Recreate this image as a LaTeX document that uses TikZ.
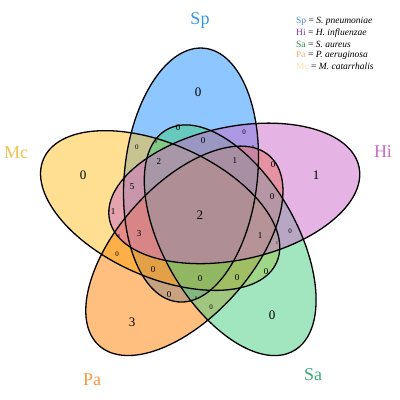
\documentclass[tikz,border=0pt]{standalone}
\usepackage{fontspec}
\setmainfont{Liberation Serif}
\definecolor{cSp}{RGB}{30,144,255}
\definecolor{cHi}{RGB}{205,105,201}
\definecolor{cSa}{RGB}{67,205,128}
\definecolor{cPa}{RGB}{255,127,0}
\definecolor{cMc}{RGB}{255,193,37}
\definecolor{tSp}{RGB}{50,150,235}
\definecolor{tHi}{RGB}{200,110,200}
\definecolor{tSa}{RGB}{60,170,120}
\definecolor{tPa}{RGB}{245,150,60}
\definecolor{tMc}{RGB}{235,195,80}
\definecolor{lSp}{RGB}{70,130,220}
\definecolor{lHi}{RGB}{120,50,160}
\definecolor{lSa}{RGB}{40,140,70}
\definecolor{lPa}{RGB}{250,180,120}
\definecolor{lMc}{RGB}{250,228,170}
\tikzset{
  big/.style={inner sep=0pt,font=\fontsize{13}{13}\selectfont},
  mid/.style={inner sep=0pt,font=\fontsize{9}{9}\selectfont},
  sml/.style={inner sep=0pt,font=\fontsize{7}{7}\selectfont},
  tny/.style={inner sep=0pt,font=\fontsize{4.5}{4.5}\selectfont},
  cat/.style={inner sep=0pt,font=\fontsize{18}{18}\selectfont},
  leg/.style={inner sep=0pt,anchor=west,font=\fontsize{9.5}{9.5}\selectfont},
}
\newcommand{\ea}{66.5}
\newcommand{\eb}{127.5}
\newcommand{\ed}{40}
\newcommand{\eal}{103}
\newcommand{\eps}{-6}
\begin{document}
\begin{tikzpicture}[x=1pt,y=-1pt]
\useasboundingbox (0,0) rectangle (400,400);
\begin{scope}[shift={(200,214)},y=1pt]
  \foreach \r/\c in {0/cSp,72/cMc,144/cPa,-144/cSa,-72/cHi}{
    \fill[\c,fill opacity=0.5,rotate=\r,rotate around={\eps:(\eal:\ed)}] (\eal:\ed) ellipse ({\ea} and {\eb});
  }
  \foreach \r in {0,72,144,-144,-72}{
    \draw[line width=1.3pt,rotate=\r,rotate around={\eps:(\eal:\ed)}] (\eal:\ed) ellipse ({\ea} and {\eb});
  }
\end{scope}
% region counts
\node[big] (n1) at (198,92) {0};
\node[big] (n2) at (83,175) {0};
\node[big] (n3) at (316,175) {1};
\node[big] (n4) at (200,215) {2};
\node[big] (n5) at (132,322) {3};
\node[big] (n6) at (272,315) {0};
\node[mid] (n7) at (178,128) {0};
\node[mid] (n8) at (203,141) {0};
\node[sml] (n9) at (137,147) {0};
\node[tny] (n10) at (156,142) {0};
\node[mid] (n11) at (159,162) {2};
\node[mid] (n12) at (132,187) {5};
\node[mid] (n13) at (113,212) {1};
\node[sml] (n14) at (244,132) {0};
\node[tny] (n15) at (253,147) {0};
\node[mid] (n16) at (235,161) {1};
\node[mid] (n17) at (273,165) {0};
\node[mid] (n18) at (272,197) {0};
\node[mid] (n19) at (260,236) {1};
\node[sml] (n20) at (290,231) {0};
\node[tny] (n21) at (277,243) {1};
\node[tny] (n22) at (119,236) {0};
\node[mid] (n23) at (139,234) {3};
\node[sml] (n24) at (117,254) {0};
\node[mid] (n25) at (153,270) {0};
\node[mid] (n26) at (200,279) {0};
\node[mid] (n27) at (237,278) {0};
\node[mid] (n28) at (266,272) {0};
\node[mid] (n29) at (169,295) {0};
\node[tny] (n30) at (196,298) {0};
\node[sml] (n31) at (211,307) {0};
% category labels
\node[cat,text=tSp] (cSp) at (200,20) {Sp};
\node[cat,text=tHi] (cHi) at (383,152) {Hi};
\node[cat,text=tSa] (cSa) at (313,375) {Sa};
\node[cat,text=tPa] (cPa) at (92,380) {Pa};
\node[cat,text=tMc] (cMc) at (16,153) {Mc};
% legend
\node[leg] (l1) at (296,21.7) {\textcolor{lSp}{Sp} = \textit{S. pneumoniae}};
\node[leg] (l2) at (296,32.9) {\textcolor{lHi}{Hi} = \textit{H. influenzae}};
\node[leg] (l3) at (296,44.1) {\textcolor{lSa}{Sa} = \textit{S. aureus}};
\node[leg] (l4) at (296,55.3) {\textcolor{lPa}{Pa} = \textit{P. aeruginosa}};
\node[leg] (l5) at (296,66.5) {\textcolor{lMc}{Mc} = \textit{M. catarrhalis}};
\end{tikzpicture}
\end{document}
